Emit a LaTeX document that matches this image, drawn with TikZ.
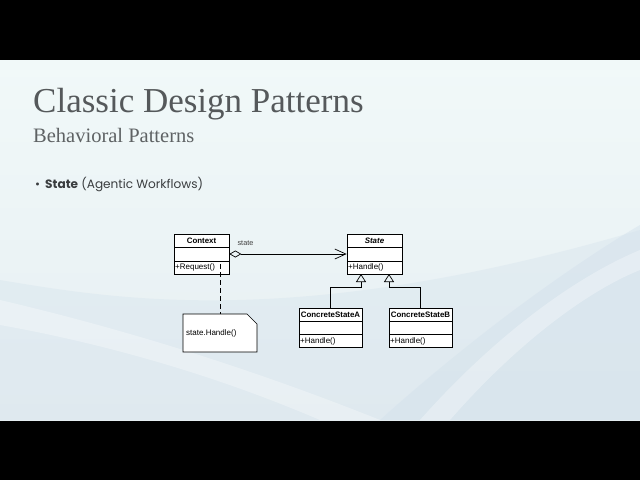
\documentclass[tikz,border=0pt]{standalone}
\usepackage{fontspec}
\setmainfont{Liberation Serif}
\newfontfamily\uml{Liberation Sans}
\newfontfamily\pop{Poppins}
\usetikzlibrary{arrows.meta,calc}
\definecolor{bgtop}{HTML}{F1F9F9}
\definecolor{bgbot}{HTML}{E6EEF2}
\definecolor{wave}{HTML}{D3E1EC}
\definecolor{titlegray}{HTML}{55595B}
\definecolor{subgray}{HTML}{5E6264}
\definecolor{bultxt}{HTML}{3A3D3F}
\tikzset{
  umlbox/.style={draw=black, fill=white, line width=0.7pt, inner sep=0pt},
  umltxt/.style={font=\uml\fontsize{8}{9}\selectfont, inner sep=0pt, text=black},
  umlbold/.style={umltxt, font=\uml\bfseries\fontsize{7.9}{9}\selectfont},
  umlline/.style={draw=black, line width=0.7pt},
  gen/.style={umlline, -{Triangle[open, length=8pt, width=10pt]}},
  assoc/.style={umlline, {Diamond[open, length=12pt, width=7pt]}-{Straight Barb[length=11pt, width=10pt, line width=0.7pt]}},
  notelink/.style={umlline, dash pattern=on 5pt off 3pt}
}
\begin{document}
\begin{tikzpicture}[x=1pt,y=-1pt]
\useasboundingbox (0,0) rectangle (640,480);
% background
\fill[black] (0,0) rectangle (640,60);
\fill[black] (0,420) rectangle (640,480);
\shade[top color=bgtop, bottom color=bgbot] (0,60) rectangle (640,420);
\fill[wave, opacity=0.45] (380,420) .. controls (480,330) and (580,260) .. (640,225) -- (640,420) -- cycle;
\fill[wave, opacity=0.35] (0,280) .. controls (120,300) and (300,330) .. (640,230) -- (640,420) -- (0,420) -- cycle;
\fill[white, opacity=0.3] (0,325) .. controls (140,350) and (250,390) .. (320,420) -- (380,420) .. controls (280,380) and (150,335) .. (0,300) -- cycle;
\fill[white, opacity=0.3] (450,420) .. controls (520,340) and (590,290) .. (640,270) -- (640,250) .. controls (580,275) and (500,330) .. (420,420) -- cycle;
% titles
\node[anchor=base west, inner sep=0pt, text=titlegray, font=\fontsize{35}{40}\selectfont] (title) at (33,112) {Classic Design Patterns};
\node[anchor=base west, inner sep=0pt, text=subgray, font=\fontsize{20.5}{24}\selectfont] (sub) at (33,142) {Behavioral Patterns};
\node[anchor=base west, inner sep=0pt, text=bultxt, font=\pop\fontsize{12.1}{15}\selectfont] (bul) at (35,188) {\textbullet\hspace{5pt}{\bfseries State} (Agentic Workflows)};
% Context
\node[umlbox, minimum width=55pt, minimum height=40pt] (ctx) at (201.5,254) {};
\draw[umlline] (174,247.5) -- (229,247.5) (174,261) -- (229,261);
\node[umlbold] (ctxn) at (201.5,241) {Context};
\node[umltxt, anchor=west] (ctxm) at (175,267.5) {+Request()};
% State
\node[umlbox, minimum width=55pt, minimum height=40pt] (st) at (374.5,254) {};
\draw[umlline] (347,247.5) -- (402,247.5) (347,261) -- (402,261);
\node[umltxt, font=\uml\bfseries\itshape\fontsize{7.9}{9}\selectfont] (stn) at (374.5,241) {State};
\node[umltxt, anchor=west] (stm) at (348,267.5) {+Handle()};
% ConcreteStateA
\node[umlbox, minimum width=63pt, minimum height=39pt] (ca) at (330.5,327.5) {};
\draw[umlline] (299,321) -- (362,321) (299,334.5) -- (362,334.5);
\node[umlbold] (can) at (330.5,314.5) {ConcreteStateA};
\node[umltxt, anchor=west] (cam) at (300,341) {+Handle()};
% ConcreteStateB
\node[umlbox, minimum width=63pt, minimum height=39pt] (cb) at (420.5,327.5) {};
\draw[umlline] (389,321) -- (452,321) (389,334.5) -- (452,334.5);
\node[umlbold] (cbn) at (420.5,314.5) {ConcreteStateB};
\node[umltxt, anchor=west] (cbm) at (390,341) {+Handle()};
% note
\coordinate (note) at (220,314);
\draw[umlline, fill=white] (183,314) -- (247,314) -- (257,324) -- (257,352) -- (183,352) -- cycle;
\node[umltxt, anchor=west] (notet) at (186,333) {state.Handle()};
% connectors
\draw[assoc] (ctx.east) -- (st.west);
\node[umltxt, font=\uml\fontsize{7.3}{8}\selectfont, text=black!75] (lbl) at (245.5,243.5) {state};
\coordinate (sa) at (361,274);
\coordinate (sb) at (389,274);
\draw[gen] (ca.north) |- ($(sa)+(0,13)$) -- (sa);
\draw[gen] (cb.north) |- ($(sb)+(0,13)$) -- (sb);
\coordinate (dstart) at (220,264);
\draw[notelink] (dstart) -- (note);
\end{tikzpicture}
\end{document}
